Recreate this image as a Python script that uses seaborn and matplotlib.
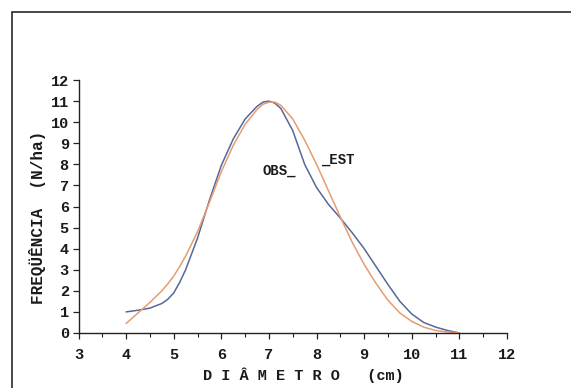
import matplotlib
matplotlib.use("Agg")
import matplotlib.pyplot as plt
from matplotlib.patches import Rectangle
from matplotlib.ticker import MultipleLocator
import pandas as pd
import seaborn as sns

# Diameter classes (cm)
diametro = [4.0, 4.25, 4.5, 4.75, 4.875, 5.0, 5.125, 5.25, 5.5, 5.75, 6.0,
            6.25, 6.5, 6.75, 6.875, 7.0, 7.125, 7.25, 7.5, 7.75, 8.0, 8.25,
            8.5, 8.75, 9.0, 9.25, 9.5, 9.75, 10.0, 10.25, 10.5, 10.75, 11.0]

# Observed frequency (N/ha)
obs = [1.0, 1.08, 1.18, 1.4, 1.6, 1.9, 2.4, 3.0, 4.5, 6.3, 7.95,
       9.2, 10.15, 10.75, 10.95, 11.0, 10.9, 10.65, 9.6, 8.0, 6.9, 6.1,
       5.45, 4.75, 4.0, 3.15, 2.3, 1.5, 0.9, 0.5, 0.28, 0.12, 0.0]

# Estimated frequency (N/ha)
est = [0.45, 0.95, 1.45, 2.0, 2.33, 2.7, 3.15, 3.65, 4.8, 6.2, 7.65,
       8.9, 9.9, 10.6, 10.85, 10.95, 10.95, 10.8, 10.15, 9.15, 8.0, 6.75,
       5.5, 4.3, 3.25, 2.35, 1.55, 0.95, 0.55, 0.28, 0.12, 0.05, 0.0]

series_names = ["OBS", "EST"]
series_colors = {"OBS": "#56679a", "EST": "#e79c70"}

x_ticks = [3, 4, 5, 6, 7, 8, 9, 10, 11, 12]
y_ticks = list(range(0, 13))

df = pd.DataFrame({
    "diametro": diametro * 2,
    "freq": obs + est,
    "serie": ["OBS"] * len(obs) + ["EST"] * len(est),
})

sns.set_style("ticks")
plt.rcParams["font.family"] = ["Liberation Mono", "DejaVu Sans Mono"]
plt.rcParams["font.weight"] = "bold"

W, H = 571, 388
fig = plt.figure(figsize=(W / 100, H / 100), dpi=100)
fig.patch.set_facecolor("white")

# axes box in pixel coordinates
x0, x1 = 78.5, 507.0
y0, y1 = 333.0, 80.0
ax = fig.add_axes([x0 / W, 1 - y0 / H, (x1 - x0) / W, (y0 - y1) / H])
ax.set_facecolor("white")

sns.lineplot(data=df, x="diametro", y="freq", hue="serie",
             hue_order=series_names, palette=series_colors,
             linewidth=1.1, legend=False, ax=ax)

ax.set_xlim(3, 12)
ax.set_ylim(0, 12)
ax.set_xticks(x_ticks)
ax.set_yticks(y_ticks)
ax.xaxis.set_minor_locator(MultipleLocator(0.5))
ax.tick_params(axis="both", which="major", direction="out", length=4,
               width=0.9, color="#222222", labelsize=11, labelcolor="#1a1a1a")
ax.tick_params(axis="x", which="minor", direction="out", length=3,
               width=0.8, color="#222222")
ax.tick_params(axis="x", pad=7)
ax.tick_params(axis="y", pad=3)
for lab in ax.get_xticklabels() + ax.get_yticklabels():
    lab.set_fontweight("bold")

for side in ["top", "right"]:
    ax.spines[side].set_visible(False)
for side in ["left", "bottom"]:
    ax.spines[side].set_color("#222222")
    ax.spines[side].set_linewidth(1.0)

ax.set_xlabel("D I Â M E T R O   (cm)", fontsize=11, fontweight="bold",
              color="#1a1a1a", labelpad=4)
ax.xaxis.label.set_x(0.524)
ax.set_ylabel("FREQÜÊNCIA  (N/ha)", fontsize=11.5, fontweight="bold",
              color="#1a1a1a", labelpad=3)
ax.yaxis.label.set_y(0.458)

# series labels beside the curves
ax.text(6.87, 7.5, "OBS_", fontsize=10, fontweight="bold",
        color="#1a1a1a", va="baseline", ha="left")
ax.text(8.1, 8.05, "_EST", fontsize=10, fontweight="bold",
        color="#1a1a1a", va="baseline", ha="left")

# outer frame around the chart
frame = Rectangle((11.5 / W, -0.2), 1.2, 1 - 11.5 / H + 0.2,
                  transform=fig.transFigure, fill=False,
                  edgecolor="#2a2a2a", linewidth=1.2, clip_on=False)
fig.patches.append(frame)

fig.savefig("out.png", dpi=100, facecolor="white")
